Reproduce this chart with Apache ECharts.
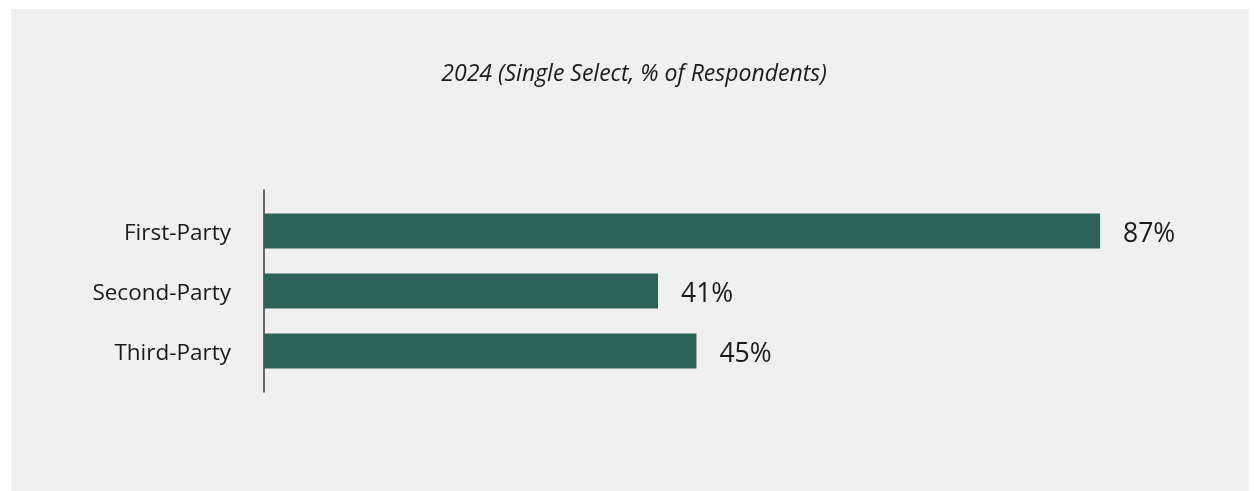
<!DOCTYPE html>
<html>
<head>
<meta charset="utf-8">
<script src="https://cdn.jsdelivr.net/npm/echarts@6/dist/echarts.min.js"></script>
<style>
  html, body { margin: 0; padding: 0; background: #ffffff; }
  #chart { position: absolute; left: 11px; top: 9px; width: 1238px; height: 482px; background: #f0f0f0; }
</style>
</head>
<body>
<div id="chart"></div>
<script>
const categories = ['First-Party', 'Second-Party', 'Third-Party'];
const shares = [87, 41, 45];
const titleText = '2024 (Single Select, % of Respondents)';

const FONT = '"Open Sans", "Noto Sans", sans-serif';
const chart = echarts.init(document.getElementById('chart'));

chart.setOption({
  backgroundColor: 'transparent',
  animation: false,
  title: {
    text: titleText,
    left: 618,
    top: 49,
    textAlign: 'center',
    textStyle: { fontFamily: FONT, fontStyle: 'italic', fontWeight: 'normal', fontSize: 23, color: '#1a1a1a' }
  },
  grid: [
    // bars
    { left: 253, right: 24, top: 192, height: 180 },
    // taller frame that only carries the vertical axis line
    { left: 253, right: 24, top: 181, height: 202 }
  ],
  xAxis: [
    { type: 'value', gridIndex: 0, min: 0, max: 100, show: false },
    { type: 'value', gridIndex: 1, min: 0, max: 100, show: false }
  ],
  yAxis: [
    {
      type: 'category', gridIndex: 0, data: categories, inverse: true,
      axisLine: { show: false }, axisTick: { show: false },
      axisLabel: {
        margin: 33,
        formatter: v => '{c|' + v + '}',
        rich: { c: { padding: [6, 0, 0, 0], fontFamily: FONT, fontSize: 22.5, color: '#1a1a1a' } }
      }
    },
    {
      type: 'category', gridIndex: 1, data: [''],
      axisLine: { show: true, lineStyle: { color: '#3a3a3a', width: 1.5 } },
      axisTick: { show: false }, axisLabel: { show: false }
    }
  ],
  series: [{
    type: 'bar',
    xAxisIndex: 0, yAxisIndex: 0,
    data: shares,
    barWidth: 35,
    itemStyle: { color: '#2d6259' },
    label: {
      show: true, position: 'right', distance: 23, offset: [0, 3],
      formatter: p => p.value + '%',
      fontFamily: FONT, fontSize: 26.5, color: '#1a1a1a'
    }
  }]
});
</script>
</body>
</html>
